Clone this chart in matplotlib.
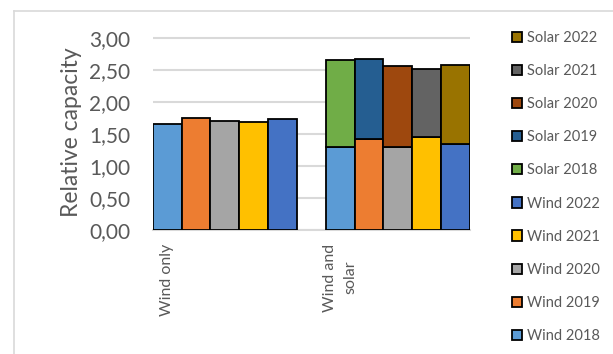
import matplotlib
matplotlib.use("Agg")
import matplotlib.pyplot as plt
import matplotlib.transforms as mtransforms
from matplotlib.patches import Patch
from matplotlib.lines import Line2D

plt.rcParams['font.family'] = ['Lato', 'DejaVu Sans']

categories = ["Wind only", "Wind and\nsolar"]
years = ["2018", "2019", "2020", "2021", "2022"]

# relative capacity per year: wind part (both categories) and solar part (second category only)
wind_only = [1.65, 1.75, 1.70, 1.69, 1.74]
wind_with_solar = [1.30, 1.42, 1.29, 1.45, 1.35]
solar_with_wind = [1.36, 1.26, 1.28, 1.07, 1.23]

wind_colors = ["#5B9BD5", "#ED7D31", "#A5A5A5", "#FFC000", "#4472C4"]
solar_colors = ["#70AD47", "#255E91", "#9E480E", "#636363", "#997300"]

y_ticks = [0.0, 0.5, 1.0, 1.5, 2.0, 2.5, 3.0]

text_color = "#595959"
grid_color = "#D9D9D9"

W, H = 613, 354
fig = plt.figure(figsize=(W / 100, H / 100), dpi=100)

ymax = 3.05
px_per_unit = 63.8
ax_left, ax_right, ax_bottom = 152.7, 470.0, 229.7
ax_h = ymax * px_per_unit
ax = fig.add_axes([ax_left / W, 1 - ax_bottom / H, (ax_right - ax_left) / W, ax_h / H])

n = len(years)
group_gap = 1  # one bar width between the two groups
group_starts = [0, n + group_gap]

for j in range(n):
    x0 = group_starts[0] + j
    x1 = group_starts[1] + j
    ax.bar(x0, wind_only[j], width=1.0, color=wind_colors[j], edgecolor="black",
           linewidth=1.3, zorder=3)
    ax.bar(x1, wind_with_solar[j], width=1.0, color=wind_colors[j], edgecolor="black",
           linewidth=1.3, zorder=3)
    ax.bar(x1, solar_with_wind[j], bottom=wind_with_solar[j], width=1.0,
           color=solar_colors[j], edgecolor="black", linewidth=1.3, zorder=3)

ax.set_xlim(-0.5, 2 * n + group_gap - 0.5)
ax.set_ylim(0, ymax)

ax.set_yticks(y_ticks)
ax.set_yticklabels([f"{v:.2f}".replace(".", ",") for v in y_ticks])
ax.yaxis.grid(True, color=grid_color, linewidth=1.5, zorder=0)
ax.set_axisbelow(True)

ax.set_xticks(group_starts)
ax.set_xticklabels(categories, rotation=90, multialignment="center", fontsize=11.5,
                   color=text_color, linespacing=1.6)
shift = mtransforms.ScaledTranslation(3 / 100, 0, fig.dpi_scale_trans)
for lbl in ax.get_xticklabels():
    lbl.set_transform(lbl.get_transform() + shift)

ax.tick_params(axis="both", length=0)
ax.tick_params(axis="y", labelsize=15, labelcolor=text_color, pad=16)
ax.tick_params(axis="x", pad=10)

for side in ["top", "right", "left"]:
    ax.spines[side].set_visible(False)
ax.spines["bottom"].set_color(grid_color)
ax.spines["bottom"].set_linewidth(1.5)

ax.set_ylabel("Relative capacity", fontsize=16.5, color=text_color, labelpad=5)

# legend: solar series first (newest on top), then wind
handles = []
labels = []
for j in reversed(range(n)):
    handles.append(Patch(facecolor=solar_colors[j], edgecolor="black", linewidth=1.3))
    labels.append(f"Solar {years[j]}")
for j in reversed(range(n)):
    handles.append(Patch(facecolor=wind_colors[j], edgecolor="black", linewidth=1.3))
    labels.append(f"Wind {years[j]}")

leg = fig.legend(handles, labels, loc="upper left", bbox_to_anchor=(512 / W, 1 - 31 / H),
                 frameon=False, fontsize=10.5, handlelength=0.7, handleheight=0.7,
                 handletextpad=0.3, labelspacing=1.31, borderaxespad=0, borderpad=0)
for t in leg.get_texts():
    t.set_color(text_color)

# chart frame (top and left edges)
fig.add_artist(Line2D([14 / W, 1], [1 - 11 / H, 1 - 11 / H], color="#D9D9D9", linewidth=1.2))
fig.add_artist(Line2D([14 / W, 14 / W], [0, 1 - 11 / H], color="#D9D9D9", linewidth=1.2))

fig.savefig("out.png", dpi=100)
